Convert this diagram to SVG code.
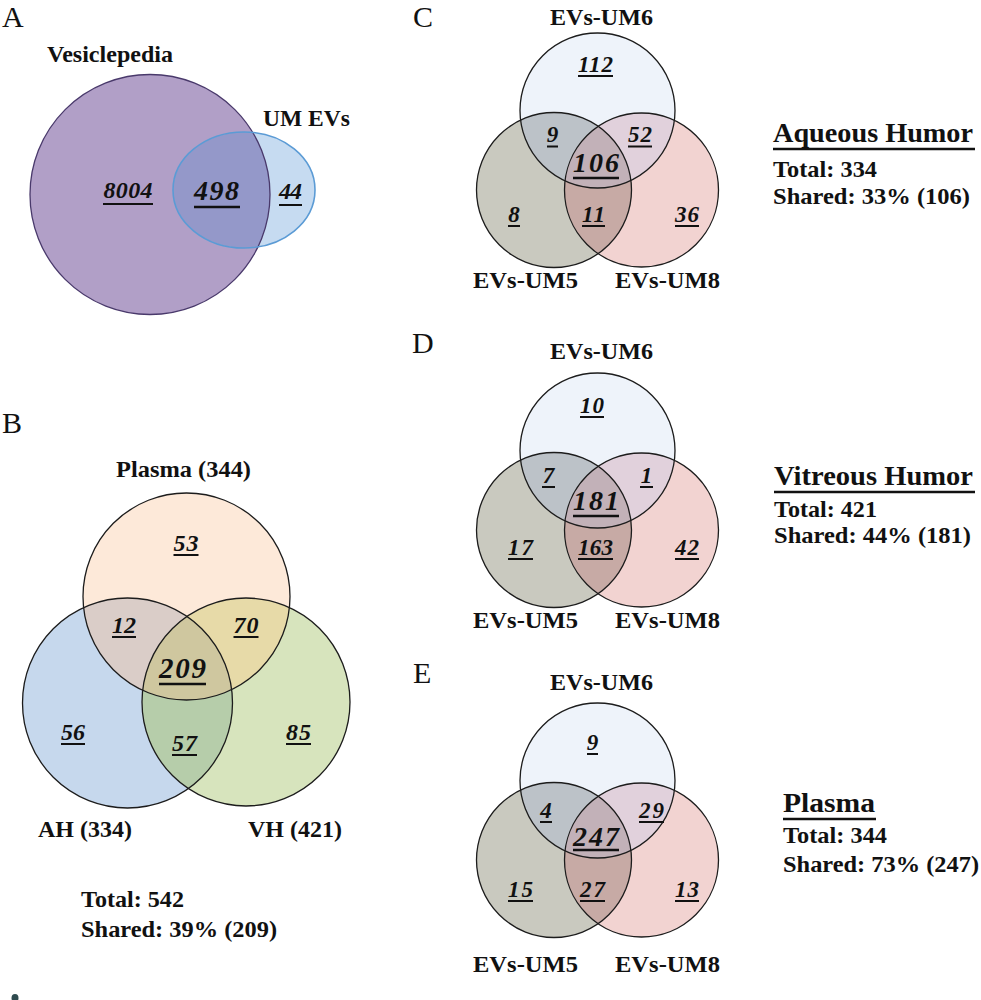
<svg xmlns="http://www.w3.org/2000/svg" xmlns:xlink="http://www.w3.org/1999/xlink" width="981" height="1000" viewBox="0 0 981 1000">
<style>
text{font-family:"Liberation Serif","Times New Roman",serif;fill:#111}
.let{font-size:30px;font-weight:normal}
.lbl{font-weight:bold;font-size:23.5px}
.ev{font-weight:bold;font-size:23px}
.ttl{font-weight:bold;font-size:27px}
.num{font-weight:bold;font-style:italic;text-anchor:middle}
.n22{font-size:23px}
.n24{font-size:24px}
.n28{font-size:28px}
.n29{font-size:29px}
.ul{stroke:#111;stroke-width:2}
.ulb{stroke:#111;stroke-width:2.6}
.edge{fill:none;stroke:#1c1c1c;stroke-width:1.3}
</style>
<defs>
  <clipPath id="clipA"><circle cx="150" cy="194.5" r="120"/></clipPath>
  <clipPath id="bT"><circle cx="186.5" cy="596.5" r="103.5"/></clipPath>
  <clipPath id="bL"><circle cx="127.5" cy="703" r="105"/></clipPath>
  <clipPath id="bR"><circle cx="246" cy="702" r="104"/></clipPath>
  <clipPath id="vT"><circle cx="597.5" cy="110.5" r="77.5"/></clipPath>
  <clipPath id="vL"><circle cx="554" cy="190" r="77.5"/></clipPath>
  <clipPath id="vR"><circle cx="641.5" cy="190" r="77"/></clipPath>
  <g id="v3">
    <circle cx="597.5" cy="110.5" r="77.5" fill="#eef3fa"/>
    <circle cx="554" cy="190" r="77.5" fill="#c9c9bf"/>
    <circle cx="641.5" cy="190" r="77" fill="#f2d3d1"/>
    <g clip-path="url(#vT)"><circle cx="554" cy="190" r="77.5" fill="#bcc2c8"/></g>
    <g clip-path="url(#vT)"><circle cx="641.5" cy="190" r="77" fill="#e1d1dc"/></g>
    <g clip-path="url(#vL)"><circle cx="641.5" cy="190" r="77" fill="#c7aaa5"/></g>
    <g clip-path="url(#vT)"><g clip-path="url(#vL)"><circle cx="641.5" cy="190" r="77" fill="#c2b1b8"/></g></g>
    <circle class="edge" cx="597.5" cy="110.5" r="77.5"/>
    <circle class="edge" cx="554" cy="190" r="77.5"/>
    <circle class="edge" cx="641.5" cy="190" r="77"/>
  </g>
</defs>

<!-- Panel A -->
<g id="panelA">
  <text class="let" x="2" y="27">A</text>
  <g id="nodeVesiclepedia">
    <circle cx="150" cy="194.5" r="120" fill="#b19fc7"/>
    <text class="lbl" x="47" y="62" textLength="126" lengthAdjust="spacingAndGlyphs">Vesiclepedia</text>
  </g>
  <g id="nodeUMEVs">
    <ellipse cx="244" cy="190" rx="71" ry="58" fill="#c6dbf1"/>
    <g clip-path="url(#clipA)"><ellipse cx="244" cy="190" rx="71" ry="58" fill="#9498c9"/></g>
    <circle cx="150" cy="194.5" r="120" fill="none" stroke="#49396b" stroke-width="1.3"/>
    <ellipse cx="244" cy="190" rx="71" ry="58" fill="none" stroke="#5b9bd5" stroke-width="1.6"/>
    <text class="lbl" x="263" y="126" textLength="87" lengthAdjust="spacingAndGlyphs">UM EVs</text>
  </g>
  <text class="num n24" x="128" y="198" textLength="49">8004</text>
  <line class="ul" x1="103" y1="204" x2="153" y2="204"/>
  <text class="num n28" x="216.5" y="200" textLength="45">498</text>
  <line class="ulb" x1="194" y1="207" x2="240" y2="207"/>
  <text class="num n24" x="290.5" y="199" textLength="23">44</text>
  <line class="ul" x1="279" y1="205" x2="302" y2="205"/>
</g>

<!-- Panel B -->
<g id="panelB">
  <text class="let" x="2" y="433">B</text>
  <g id="nodePlasmaB">
    <circle cx="186.5" cy="596.5" r="103.5" fill="#fde9d9"/>
  </g>
  <g id="nodeAH">
    <circle cx="127.5" cy="703" r="105" fill="#c6d8ed"/>
  </g>
  <g id="nodeVH">
    <circle cx="246" cy="702" r="104" fill="#d7e4bd"/>
  </g>
  <g id="overlapsB">
    <g clip-path="url(#bT)"><circle cx="127.5" cy="703" r="105" fill="#dacdc8"/></g>
    <g clip-path="url(#bT)"><circle cx="246" cy="702" r="104" fill="#e7daa8"/></g>
    <g clip-path="url(#bL)"><circle cx="246" cy="702" r="104" fill="#b6cdaa"/></g>
    <g clip-path="url(#bT)"><g clip-path="url(#bL)"><circle cx="246" cy="702" r="104" fill="#cfc79f"/></g></g>
    <circle class="edge" cx="186.5" cy="596.5" r="103.5"/>
    <circle class="edge" cx="127.5" cy="703" r="105"/>
    <circle class="edge" cx="246" cy="702" r="104"/>
  </g>
  <text class="lbl" x="116" y="477" textLength="135" lengthAdjust="spacingAndGlyphs">Plasma  (344)</text>
  <text class="lbl" x="38" y="837" textLength="94" lengthAdjust="spacingAndGlyphs">AH (334)</text>
  <text class="lbl" x="248" y="837" textLength="94" lengthAdjust="spacingAndGlyphs">VH (421)</text>
  <text class="num n24" x="186" y="551" textLength="25">53</text>
  <line class="ul" x1="173.5" y1="555" x2="198.5" y2="555"/>
  <text class="num n24" x="124" y="633" textLength="24">12</text>
  <line class="ul" x1="112" y1="637" x2="136" y2="637"/>
  <text class="num n24" x="246" y="633" textLength="25">70</text>
  <line class="ul" x1="233.5" y1="637" x2="258.5" y2="637"/>
  <text class="num n29" x="182.5" y="678" textLength="47">209</text>
  <line class="ulb" x1="159" y1="684" x2="206" y2="684"/>
  <text class="num n24" x="73" y="740" textLength="24">56</text>
  <line class="ul" x1="61" y1="744" x2="85" y2="744"/>
  <text class="num n24" x="184.5" y="751" textLength="25">57</text>
  <line class="ul" x1="172" y1="755" x2="197" y2="755"/>
  <text class="num n24" x="298.5" y="740" textLength="25">85</text>
  <line class="ul" x1="286" y1="744" x2="311" y2="744"/>
  <text class="lbl" x="81" y="907" textLength="103" lengthAdjust="spacingAndGlyphs">Total: 542</text>
  <text class="lbl" x="81" y="937" textLength="196" lengthAdjust="spacingAndGlyphs">Shared: 39% (209)</text>
</g>

<!-- Panel C -->
<g id="panelC">
  <text class="let" x="413" y="27">C</text>
  <use xlink:href="#v3" href="#v3"/>
  <text class="ev" x="550" y="25" textLength="103" lengthAdjust="spacingAndGlyphs">EVs-UM6</text>
  <text class="ev" x="473" y="288" textLength="105" lengthAdjust="spacingAndGlyphs">EVs-UM5</text>
  <text class="ev" x="615" y="288" textLength="105" lengthAdjust="spacingAndGlyphs">EVs-UM8</text>
  <text class="num n22" x="595.5" y="72" textLength="35">112</text>
  <line class="ul" x1="578" y1="76" x2="613" y2="76"/>
  <text class="num n22" x="552.5" y="142">9</text>
  <line class="ul" x1="547" y1="146.5" x2="558" y2="146.5"/>
  <text class="num n22" x="640" y="142" textLength="24">52</text>
  <line class="ul" x1="628" y1="146.5" x2="652" y2="146.5"/>
  <text class="num n28" x="596" y="172" textLength="46">106</text>
  <line class="ulb" x1="573" y1="178" x2="619" y2="178"/>
  <text class="num n22" x="514" y="222">8</text>
  <line class="ul" x1="508" y1="226" x2="520" y2="226"/>
  <text class="num n22" x="593.5" y="222" textLength="23">11</text>
  <line class="ul" x1="582" y1="226" x2="605" y2="226"/>
  <text class="num n22" x="687" y="222" textLength="24">36</text>
  <line class="ul" x1="675" y1="226" x2="699" y2="226"/>
  <text class="ttl" x="773" y="142" textLength="200" lengthAdjust="spacingAndGlyphs">Aqueous Humor</text>
  <line class="ulb" x1="773" y1="149" x2="975" y2="149"/>
  <text class="lbl" x="773" y="177" textLength="104" lengthAdjust="spacingAndGlyphs">Total: 334</text>
  <text class="lbl" x="773" y="204" textLength="197" lengthAdjust="spacingAndGlyphs">Shared: 33% (106)</text>
</g>

<!-- Panel D -->
<g id="panelD">
  <text class="let" x="412" y="353">D</text>
  <use xlink:href="#v3" href="#v3" y="340"/>
  <text class="ev" x="550" y="359" textLength="103" lengthAdjust="spacingAndGlyphs">EVs-UM6</text>
  <text class="ev" x="473" y="628" textLength="105" lengthAdjust="spacingAndGlyphs">EVs-UM5</text>
  <text class="ev" x="615" y="628" textLength="105" lengthAdjust="spacingAndGlyphs">EVs-UM8</text>
  <text class="num n22" x="592" y="413" textLength="24">10</text>
  <line class="ul" x1="580" y1="417" x2="604" y2="417"/>
  <text class="num n22" x="548.5" y="483">7</text>
  <line class="ul" x1="542" y1="487" x2="555" y2="487"/>
  <text class="num n22" x="646.5" y="483">1</text>
  <line class="ul" x1="640" y1="487" x2="653" y2="487"/>
  <text class="num n28" x="596" y="510" textLength="46">181</text>
  <line class="ulb" x1="573" y1="516" x2="619" y2="516"/>
  <text class="num n22" x="520.5" y="555" textLength="25">17</text>
  <line class="ul" x1="508" y1="559" x2="533" y2="559"/>
  <text class="num n22" x="595.5" y="555" textLength="35">163</text>
  <line class="ul" x1="578" y1="559" x2="613" y2="559"/>
  <text class="num n22" x="687" y="555" textLength="24">42</text>
  <line class="ul" x1="675" y1="559" x2="699" y2="559"/>
  <text class="ttl" x="774" y="485" textLength="199" lengthAdjust="spacingAndGlyphs">Vitreous Humor</text>
  <line class="ulb" x1="774" y1="492" x2="975" y2="492"/>
  <text class="lbl" x="774" y="517" textLength="103" lengthAdjust="spacingAndGlyphs">Total: 421</text>
  <text class="lbl" x="774" y="543" textLength="197" lengthAdjust="spacingAndGlyphs">Shared: 44% (181)</text>
</g>

<!-- Panel E -->
<g id="panelE">
  <text class="let" x="413" y="683">E</text>
  <use xlink:href="#v3" href="#v3" y="670"/>
  <text class="ev" x="550" y="690" textLength="103" lengthAdjust="spacingAndGlyphs">EVs-UM6</text>
  <text class="ev" x="473" y="972" textLength="105" lengthAdjust="spacingAndGlyphs">EVs-UM5</text>
  <text class="ev" x="615" y="972" textLength="105" lengthAdjust="spacingAndGlyphs">EVs-UM8</text>
  <text class="num n22" x="592.5" y="750">9</text>
  <line class="ul" x1="587" y1="754" x2="598" y2="754"/>
  <text class="num n22" x="546" y="818">4</text>
  <line class="ul" x1="540" y1="822" x2="552" y2="822"/>
  <text class="num n22" x="651.5" y="818" textLength="25">29</text>
  <line class="ul" x1="639" y1="822" x2="664" y2="822"/>
  <text class="num n28" x="596" y="846" textLength="46">247</text>
  <line class="ulb" x1="573" y1="850" x2="619" y2="850"/>
  <text class="num n22" x="520.5" y="897" textLength="25">15</text>
  <line class="ul" x1="508" y1="901" x2="533" y2="901"/>
  <text class="num n22" x="592.5" y="897" textLength="25">27</text>
  <line class="ul" x1="580" y1="901" x2="605" y2="901"/>
  <text class="num n22" x="687" y="897" textLength="24">13</text>
  <line class="ul" x1="675" y1="901" x2="699" y2="901"/>
  <text class="ttl" x="783" y="812" textLength="92" lengthAdjust="spacingAndGlyphs">Plasma</text>
  <line class="ulb" x1="783" y1="819" x2="876" y2="819"/>
  <text class="lbl" x="783" y="843" textLength="104" lengthAdjust="spacingAndGlyphs">Total: 344</text>
  <text class="lbl" x="783" y="872" textLength="196" lengthAdjust="spacingAndGlyphs">Shared: 73% (247)</text>
</g>

<g id="connectors"></g>
<ellipse cx="15" cy="998" rx="3.5" ry="4" fill="#2f4b4f"/>
</svg>
